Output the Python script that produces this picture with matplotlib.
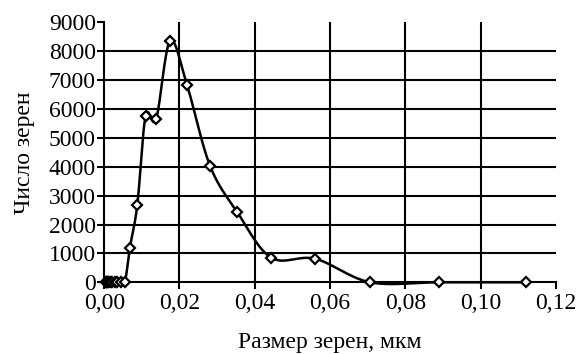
import numpy as np
import matplotlib
matplotlib.use("Agg")
import matplotlib.pyplot as plt
from matplotlib.ticker import FuncFormatter

# Data
grain_size = [0.00043, 0.00055, 0.00069, 0.00087, 0.0011, 0.0014, 0.0017, 0.0022,
              0.0028, 0.0035, 0.0044, 0.0055, 0.0068, 0.0088, 0.0110, 0.0138,
              0.0175, 0.0220, 0.0281, 0.0354, 0.0444, 0.0561, 0.0707, 0.0889, 0.1120]
grain_count = [0, 0, 0, 0, 0, 0, 0, 0,
               0, 0, 0, 0, 1180, 2690, 5760, 5650,
               8360, 6830, 4035, 2420, 850, 815, 0, 0, 0]

x_ticks = [0.00, 0.02, 0.04, 0.06, 0.08, 0.10, 0.12]
y_ticks = [0, 1000, 2000, 3000, 4000, 5000, 6000, 7000, 8000, 9000]
x_label = "Размер зерен, мкм"
y_label = "Число зерен"


def smooth(xs, ys, n=30):
    # Excel-like smoothed line (Catmull-Rom Bezier)
    xs = np.asarray(xs, float)
    ys = np.asarray(ys, float)
    P = np.column_stack([xs, ys])
    out = []
    for i in range(len(P) - 1):
        p0 = P[i - 1] if i > 0 else P[i]
        p1 = P[i]
        p2 = P[i + 1]
        p3 = P[i + 2] if i + 2 < len(P) else P[i + 1]
        c1 = p1 + (p2 - p0) / 6.0
        c2 = p2 - (p3 - p1) / 6.0
        t = np.linspace(0, 1, n)[:, None]
        seg = ((1 - t) ** 3) * p1 + 3 * ((1 - t) ** 2) * t * c1 + 3 * (1 - t) * t ** 2 * c2 + t ** 3 * p2
        out.append(seg if i == 0 else seg[1:])
    s = np.vstack(out)
    return s[:, 0], s[:, 1]


plt.rcParams['font.family'] = ['Liberation Serif', 'DejaVu Serif']

fig = plt.figure(figsize=(5.79, 3.54), dpi=100)
ax = fig.add_axes([0.180, 0.2025, 0.780, 0.7345])

ax.set_xlim(0, 0.12)
ax.set_ylim(0, 9000)
ax.set_xticks(x_ticks)
ax.set_yticks(y_ticks)

for xv in x_ticks[1:-1]:
    ax.axvline(xv, color='black', lw=1.5, zorder=1)
for yv in y_ticks[1:-1]:
    ax.axhline(yv, color='black', lw=1.5, zorder=1)

sx, sy = smooth(grain_size, grain_count)
ax.plot(sx, sy, color='black', lw=1.8, zorder=3, clip_on=False)
ax.plot(grain_size, grain_count, linestyle='none', marker='D', markersize=5.5,
        markerfacecolor='white', markeredgecolor='black', markeredgewidth=1.6,
        zorder=4, clip_on=False)

ax.spines['top'].set_visible(False)
ax.spines['right'].set_visible(False)
for s in ('left', 'bottom'):
    ax.spines[s].set_linewidth(1.5)
    ax.spines[s].set_color('black')

ax.tick_params(direction='out', length=5, width=1.5, labelsize=17, colors='black')
ax.tick_params(axis='y', pad=1)
ax.tick_params(axis='x', pad=3)
ax.xaxis.set_major_formatter(FuncFormatter(lambda v, p: f"{v:.2f}".replace('.', ',')))
ax.yaxis.set_major_formatter(FuncFormatter(lambda v, p: f"{int(round(v))}"))

ax.set_xlabel(x_label, fontsize=17, labelpad=13)
ax.set_ylabel(y_label, fontsize=17, labelpad=10)

fig.savefig("out.png", dpi=100)
